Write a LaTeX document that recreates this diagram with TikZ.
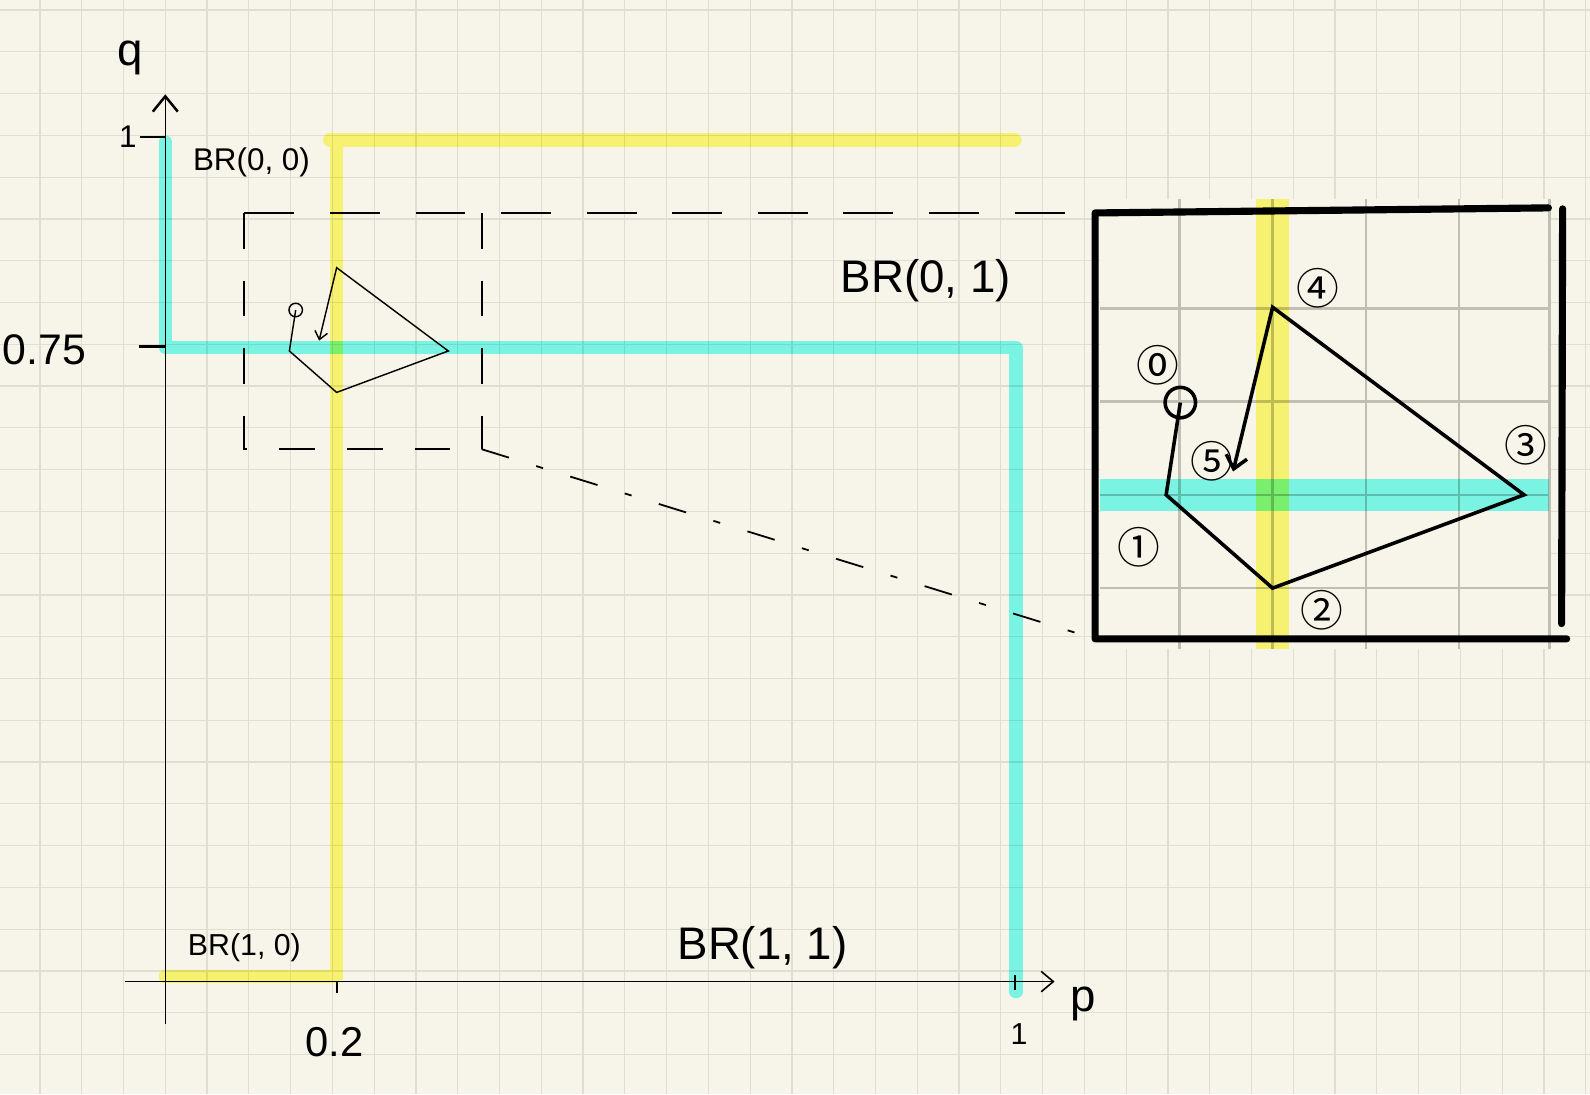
\documentclass[tikz,border=0pt]{standalone}
\usepackage{fontspec}
\setmainfont{Liberation Sans}
\newfontfamily\cjkfont{Noto Sans CJK JP}
\usetikzlibrary{arrows.meta}
\definecolor{bgc}{RGB}{247,245,233}
\definecolor{gridc}{RGB}{224,222,209}
\definecolor{biggrid}{RGB}{192,191,178}
\definecolor{cyanc}{RGB}{126,253,249}
\definecolor{yelc}{RGB}{254,251,123}
\begin{document}
\begin{tikzpicture}[x=0.01cm,y=-0.01cm,
  fs/.style={font=\fontsize{#1}{#1}\selectfont},
  lbl/.style={inner sep=0pt, anchor=base},
  circnum/.style={inner sep=0pt, font=\cjkfont\fontsize{12pt}{12pt}\selectfont},
  band/.style={line width=0.13cm, line cap=round, line join=round},
  axisline/.style={line width=0.4pt, black},
  bar/.style={line width=2pt, line cap=round, line join=round, black},
  zoomdash/.style={line width=0.5pt, dash pattern=on 10pt off 9pt},
  longdash/.style={line width=0.5pt, dash pattern=on 14pt off 10pt},
  dashdot/.style={line width=0.5pt, dash pattern=on 8pt off 8pt on 2pt off 8pt},
  bigpoly/.style={line width=1pt, black},
  smallpoly/.style={line width=0.4pt, black}]
\useasboundingbox (0,0) rectangle (1568,1079);
\fill[bgc] (0,0) rectangle (1568,1079);
% background grid
\foreach \i in {0,...,37} \draw[gridc, line width=0.35pt] ({39.4+41.2*\i},0) -- ({39.4+41.2*\i},1079);
\foreach \j in {0,...,26} \draw[gridc, line width=0.35pt] (0,{9.9+41.2*\j}) -- (1568,{9.9+41.2*\j});

% best-response lines
\coordinate (c1) at (163,140);
\coordinate (c2) at (163,343);
\coordinate (c3) at (1002,343);
\coordinate (c4) at (1002,978);
\coordinate (y0) at (325,138);
\coordinate (y1) at (1001,138);
\coordinate (y2) at (332,138);
\coordinate (y3) at (332,963);
\coordinate (y4) at (163,963);
\begin{scope}[blend mode=multiply]
\draw[band, cyanc] (c1) -- (c2) -- (c3) -- (c4);
\draw[band, yelc] (y1) -- (y0) -- (y2) -- (y3) -- (y4);
\end{scope}

% axes
\coordinate (yb) at (163,1010);
\coordinate (yt) at (163,93);
\coordinate (xl) at (123,968);
\coordinate (xr) at (1040,968);
\draw[axisline, -{Straight Barb[length=4.3pt,width=7pt,line width=0.7pt]}] (yb) -- (yt);
\draw[axisline, -{Straight Barb[length=3.4pt,width=5.7pt,line width=0.45pt]}] (xl) -- (xr);
% ticks
\draw[line width=0.75pt] (138,135) -- (163,135);
\draw[line width=0.85pt] (137,342) -- (163,342);
\draw[line width=0.6pt] (332,968) -- (332,979);
\draw[line width=0.4pt] (1001,962) -- (1001,976);

% labels
\node[lbl, fs=12.8pt] (qlab) at (128,65) {q};
\node[lbl, fs=8.8pt] (q1) at (126,145) {1};
\node[lbl, fs=12pt] (q075) at (44,359) {0.75};
\node[lbl, fs=8.8pt] (br00) at (248,168) {BR(0, 0)};
\node[lbl, fs=12.8pt] (br01) at (913,288) {BR(0, 1)};
\node[lbl, fs=8.5pt] (br10) at (241,942) {BR(1, 0)};
\node[lbl, fs=12.8pt] (br11) at (752,946) {BR(1, 1)};
\node[lbl, fs=11.7pt] (p02) at (330,1042) {0.2};
\node[lbl, fs=8.5pt] (p1) at (1005,1030) {1};
\node[lbl, fs=12.8pt] (plab) at (1068,998) {p};

% zoom frame and guide lines
\coordinate (r1) at (241,210);
\coordinate (r2) at (475,210);
\coordinate (r3) at (475,443);
\coordinate (r4) at (241,443);
\coordinate (tl) at (1080,210);
\coordinate (tr) at (1527,205);
\coordinate (bl) at (1080,630);
\coordinate (br) at (1545,630);
\coordinate (rt) at (1541,206);
\coordinate (rb) at (1540,615);
\draw[zoomdash] (r1) -- (r4) -- (r3);
\draw[zoomdash] (r2) -- (r3);
\draw[longdash] (r1) -- (tl);
\draw[dashdot] (r3) -- (bl);

% small path
\begin{scope}[shift={(332,264)}, scale=0.444]
\coordinate (s0) at (-91,94);
\coordinate (s1) at (-105,185);
\coordinate (s2) at (0,277);
\coordinate (s3) at (248,185);
\coordinate (s4) at (0,0);
\coordinate (s5) at (-39,162);
\draw[smallpoly] (s0) circle[radius=15];
\end{scope}
\draw[smallpoly, -{Straight Barb[length=2.2pt,width=3.6pt]}] (s0) -- (s1) -- (s2) -- (s3) -- (s4) -- (s5);

% magnified panel
\fill[bgc] (1085,196) rectangle (1528,640);
\foreach \x in {1163,1255,1347,1439,1528} \draw[biggrid, line width=0.7pt] (\x,196) -- (\x,640);
\foreach \y in {304,396,488,580} \draw[biggrid, line width=0.7pt] (1085,\y) -- (1528,\y);
\begin{scope}[blend mode=multiply]
\fill[yelc] (1239,196) rectangle (1271,640);
\fill[cyanc] (1085,472) rectangle (1528,504);
\end{scope}
\begin{scope}[shift={(1255,303)}]
\coordinate (b0) at (-91,94);
\coordinate (b1) at (-105,185);
\coordinate (b2) at (0,277);
\coordinate (b3) at (248,185);
\coordinate (b4) at (0,0);
\coordinate (b5) at (-39,162);
\draw[bigpoly] (b0) circle[radius=15];
\end{scope}
\draw[bigpoly, -{Straight Barb[length=3.5pt,width=6pt,line width=1pt]}] (b0) -- (b1) -- (b2) -- (b3) -- (b4) -- (b5);
\draw[bar] (tr) -- (tl) -- (bl) -- (br);
\draw[bar] (rt) -- (rb);

\node[circnum] (n0) at (1142,360) {⓪};
\node[circnum] (n1) at (1123,540) {①};
\node[circnum] (n2) at (1304,602) {②};
\node[circnum] (n3) at (1505,439) {③};
\node[circnum] (n4) at (1300,284) {④};
\node[circnum] (n5) at (1195,455) {⑤};
\end{tikzpicture}
\end{document}
